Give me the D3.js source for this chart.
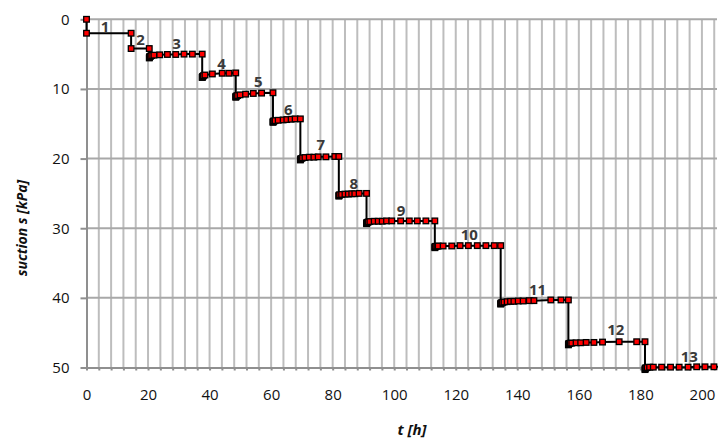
<!DOCTYPE html>
<html>
<head>
<meta charset="utf-8">
<script src="https://cdn.jsdelivr.net/npm/d3@7"></script>
<style>
  html, body { margin: 0; padding: 0; background: #fff; }
  svg { display: block; }
  .tick text { font-family: "Open Sans", sans-serif; font-size: 15px; fill: #111; }
</style>
</head>
<body>
<svg id="chart" width="718" height="439"></svg>
<script>
// Suction steps: each array holds [t (h), s (kPa)] readings of one loading step
const step1 = [[0, 0], [0, 2.0], [14.5, 2.0]];
const step2 = [[14.5, 4.2], [20.4, 4.2]];
const step3 = [[20.4, 5.55], [20.45, 5.45], [20.5, 5.4], [20.6, 5.35], [20.8, 5.3], [21.2, 5.2], [21.9, 5.15], [23.8, 5.1], [26.3, 5.05], [29.0, 5.05], [31.7, 5.0], [34.4, 5.0], [37.6, 5.0]];
const step4 = [[37.6, 8.35], [37.65, 8.3], [37.7, 8.25], [37.8, 8.2], [38.0, 8.1], [38.5, 8.0], [40.9, 7.85], [44.1, 7.75], [46.3, 7.75], [48.5, 7.7]];
const step5 = [[48.5, 11.2], [48.55, 11.1], [48.6, 11.05], [48.8, 11.0], [49.1, 10.95], [49.9, 10.85], [51.7, 10.75], [54.2, 10.65], [56.9, 10.6], [60.6, 10.55]];
const step6 = [[60.6, 14.8], [60.65, 14.7], [60.7, 14.65], [60.9, 14.6], [61.3, 14.55], [62.3, 14.5], [63.9, 14.45], [65.1, 14.4], [66.5, 14.35], [67.8, 14.3], [69.5, 14.3]];
const step7 = [[69.5, 20.2], [69.55, 20.1], [69.6, 20.05], [69.8, 20.0], [70.2, 19.9], [71.0, 19.85], [72.4, 19.8], [73.9, 19.8], [75.3, 19.75], [77.8, 19.75], [80.7, 19.7], [82.0, 19.7]];
const step8 = [[82.0, 25.4], [82.05, 25.3], [82.1, 25.25], [82.3, 25.2], [82.9, 25.15], [84.0, 25.1], [85.1, 25.1], [86.2, 25.05], [87.2, 25.05], [88.6, 25.0], [91.0, 25.0]];
const step9 = [[91.0, 29.35], [91.05, 29.25], [91.1, 29.2], [91.3, 29.15], [91.6, 29.1], [92.1, 29.05], [93.5, 29.0], [94.8, 29.0], [96.1, 29.0], [97.5, 28.95], [99.2, 28.95], [102.1, 28.95], [104.9, 28.95], [107.5, 28.95], [110.3, 28.95], [113.2, 28.95]];
const step10 = [[113.2, 32.8], [113.25, 32.7], [113.3, 32.65], [113.5, 32.6], [113.9, 32.6], [114.3, 32.55], [115.9, 32.55], [118.7, 32.55], [121.4, 32.5], [124.1, 32.5], [127.0, 32.5], [129.8, 32.5], [132.5, 32.5], [134.6, 32.5]];
const step11 = [[134.6, 40.9], [134.65, 40.8], [134.7, 40.75], [134.9, 40.7], [135.2, 40.65], [135.7, 40.6], [136.7, 40.55], [137.8, 40.5], [138.9, 40.5], [140.3, 40.45], [141.9, 40.45], [143.9, 40.4], [145.4, 40.4], [150.9, 40.3], [154.2, 40.3], [156.6, 40.3]];
const step12 = [[156.6, 46.75], [156.65, 46.65], [156.7, 46.6], [156.9, 46.55], [157.2, 46.5], [157.7, 46.5], [159.1, 46.45], [160.6, 46.45], [162.4, 46.4], [164.9, 46.4], [167.7, 46.35], [173.1, 46.3], [178.8, 46.3], [181.5, 46.3]];
const step13 = [[181.5, 50.3], [181.55, 50.2], [181.6, 50.1], [181.8, 50.05], [182.2, 50.0], [183.0, 49.95], [184.2, 49.95], [186.9, 49.95], [189.8, 49.95], [192.6, 49.95], [195.5, 49.95], [198.3, 49.9], [201.0, 49.9], [203.9, 49.9], [206.7, 49.9]];

const steps = [step1, step2, step3, step4, step5, step6, step7, step8, step9, step10, step11, step12, step13];

// Step numbers and the [t, s] point each number is centred on
const stepNames = ["1", "2", "3", "4", "5", "6", "7", "8", "9", "10", "11", "12", "13"];
const stepLabelAt = [[6.0, 1.06], [17.6, 2.97], [29.3, 3.55], [43.9, 6.32], [55.8, 8.96], [65.6, 12.9], [76.1, 18.05], [86.9, 23.55], [102.2, 27.4], [124.4, 30.97], [146.6, 38.87], [172.0, 44.6], [195.9, 48.5]];

// Axis ticks
const yTicks = [0, 10, 20, 30, 40, 50];
const xLabelTicks = [0, 20, 40, 60, 80, 100, 120, 140, 160, 180, 200];
const xMinorTicks = d3.range(0, 205, 4);

const svg = d3.select("#chart");

const x = d3.scaleLinear().domain([0, 204.9]).range([86.5, 717]);
const y = d3.scaleLinear().domain([0, 50]).range([19.3, 367.5]);

// Gridlines
const grid = svg.append("g");
grid.selectAll("line.v")
  .data(xMinorTicks.filter(d => d > 0))
  .join("line")
  .attr("class", "v")
  .attr("x1", d => x(d)).attr("x2", d => x(d))
  .attr("y1", y(0)).attr("y2", y(50))
  .attr("stroke", "#bdbdbd").attr("stroke-width", 2);
grid.selectAll("line.h")
  .data(yTicks.filter(d => d < 50))
  .join("line")
  .attr("class", "h")
  .attr("x1", x(0)).attr("x2", x.range()[1])
  .attr("y1", d => y(d)).attr("y2", d => y(d))
  .attr("stroke", "#a8a8a8").attr("stroke-width", 2);

// Axes
const axisColor = "#8f8f8f";
const yAxis = svg.append("g")
  .attr("transform", `translate(${x(0)},0)`)
  .call(d3.axisLeft(y).tickValues(yTicks).tickSize(6).tickSizeOuter(0).tickPadding(11).tickFormat(d3.format("d")));
const xAxis = svg.append("g")
  .attr("transform", `translate(0,${y(50)})`)
  .call(d3.axisBottom(x).tickValues(xMinorTicks).tickSize(3).tickSizeOuter(0).tickPadding(19)
    .tickFormat(d => xLabelTicks.includes(d) ? d : ""));
[yAxis, xAxis].forEach(a => {
  a.select(".domain").attr("stroke", axisColor).attr("stroke-width", 2);
  a.selectAll(".tick line").attr("stroke", axisColor).attr("stroke-width", 2);
});

// Axis titles
svg.append("text")
  .attr("x", 412).attr("y", 435)
  .attr("text-anchor", "middle")
  .style("font-family", "'Open Sans', sans-serif")
  .style("font-size", "15px").style("font-weight", "bold").style("font-style", "italic")
  .attr("fill", "#111")
  .text("t [h]");
svg.append("text")
  .attr("transform", "translate(27,228) rotate(-90)")
  .attr("text-anchor", "middle")
  .style("font-family", "'Open Sans', sans-serif")
  .style("font-size", "14px").style("font-weight", "bold").style("font-style", "italic")
  .attr("fill", "#111")
  .text("suction s [kPa]");

// Measured series: one continuous line through all steps
const points = steps.flat();
const line = d3.line().x(d => x(d[0])).y(d => y(d[1]));
svg.append("path")
  .datum(points)
  .attr("d", line)
  .attr("fill", "none")
  .attr("stroke", "#000")
  .attr("stroke-width", 2);

// Square markers
const m = 5.6;
svg.append("g").selectAll("rect")
  .data(points)
  .join("rect")
  .attr("x", d => x(d[0]) - m / 2)
  .attr("y", d => y(d[1]) - m / 2)
  .attr("width", m).attr("height", m)
  .attr("fill", "#ff0000")
  .attr("stroke", "#000")
  .attr("stroke-width", 1.3);

// Step numbers
svg.append("g").selectAll("text")
  .data(stepNames)
  .join("text")
  .attr("x", (d, i) => x(stepLabelAt[i][0]))
  .attr("y", (d, i) => y(stepLabelAt[i][1]))
  .attr("dy", "0.36em")
  .attr("text-anchor", "middle")
  .style("font-family", "'Open Sans', sans-serif")
  .style("font-size", "15px").style("font-weight", "bold")
  .attr("fill", "#3a3a3a")
  .text(d => d);
</script>
</body>
</html>
